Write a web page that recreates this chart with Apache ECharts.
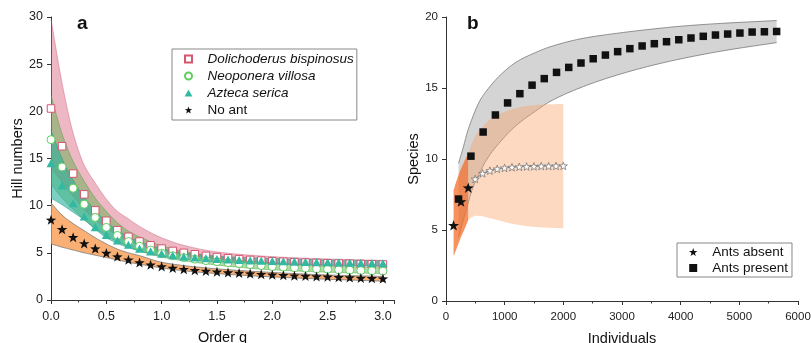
<!DOCTYPE html>
<html>
<head>
<meta charset="utf-8">
<script src="https://cdn.jsdelivr.net/npm/echarts@6/dist/echarts.min.js"></script>
<style>
  html, body { margin: 0; padding: 0; background: #fff; }
  #chart { width: 811px; height: 343px; }
</style>
</head>
<body>
<div id="chart"></div>
<script>
// ---- panel a: Hill number profiles ----
const orderQ = [0, 0.1, 0.2, 0.3, 0.4, 0.5, 0.6, 0.7, 0.8, 0.9, 1.0, 1.1, 1.2, 1.3, 1.4, 1.5,
  1.6, 1.7, 1.8, 1.9, 2.0, 2.1, 2.2, 2.3, 2.4, 2.5, 2.6, 2.7, 2.8, 2.9, 3.0];
const dolichoderus = [20.3, 16.3, 13.4, 11.2, 9.5, 8.4, 7.4, 6.7, 6.2, 5.8, 5.45, 5.2, 5.0, 4.85, 4.68, 4.55,
  4.43, 4.33, 4.25, 4.18, 4.11, 4.06, 4.01, 3.97, 3.93, 3.9, 3.87, 3.84, 3.81, 3.79, 3.77];
const neoponera = [17.0, 14.1, 11.85, 10.15, 8.75, 7.7, 6.85, 6.2, 5.7, 5.3, 4.95, 4.7, 4.5, 4.33, 4.18, 4.06,
  3.95, 3.85, 3.75, 3.65, 3.55, 3.48, 3.42, 3.36, 3.3, 3.25, 3.2, 3.16, 3.12, 3.09, 3.06];
const azteca = [14.5, 12.15, 10.25, 8.85, 7.72, 6.9, 6.3, 5.85, 5.45, 5.15, 4.92, 4.75, 4.6, 4.5, 4.42, 4.35,
  4.29, 4.24, 4.2, 4.16, 4.13, 4.1, 4.07, 4.04, 4.02, 4.0, 3.98, 3.96, 3.94, 3.92, 3.9];
const noAnt = [8.5, 7.5, 6.65, 6.0, 5.45, 4.98, 4.6, 4.27, 3.98, 3.74, 3.55, 3.4, 3.27, 3.16, 3.07, 3.0,
  2.92, 2.86, 2.8, 2.74, 2.68, 2.63, 2.58, 2.54, 2.5, 2.46, 2.42, 2.38, 2.34, 2.3, 2.27];

// confidence bands, sampled more sparsely
const bandQ = [0, 0.1, 0.2, 0.3, 0.4, 0.5, 0.6, 0.7, 0.8, 1.0, 1.2, 1.5, 2.0, 2.5, 3.0];
const dolUpper = [29.8, 23.0, 17.7, 14.3, 12.4, 10.7, 9.4, 8.6, 7.8, 6.6, 5.8, 5.1, 4.6, 4.35, 4.2];
const dolLower = [14.0, 12.5, 11.0, 9.6, 8.5, 7.6, 6.9, 6.3, 5.9, 5.2, 4.8, 4.35, 3.95, 3.72, 3.55];
const neoUpper = [21.7, 17.6, 14.7, 12.6, 10.8, 9.4, 8.2, 7.3, 6.7, 5.75, 5.15, 4.6, 3.95, 3.6, 3.4];
const neoLower = [12.3, 10.8, 9.6, 8.5, 7.6, 6.8, 6.2, 5.65, 5.2, 4.55, 4.15, 3.7, 3.2, 2.95, 2.8];
const aztUpper = [18.0, 15.0, 12.7, 10.9, 9.5, 8.3, 7.4, 6.7, 6.2, 5.45, 5.0, 4.65, 4.4, 4.25, 4.15];
const aztLower = [10.8, 10.1, 9.3, 8.5, 7.5, 6.6, 6.0, 5.55, 5.2, 4.65, 4.35, 4.05, 3.82, 3.68, 3.6];
const noUpper = [10.3, 9.0, 8.1, 7.35, 6.6, 5.95, 5.4, 5.0, 4.7, 4.0, 3.65, 3.3, 2.92, 2.65, 2.5];
const noLower = [5.95, 5.6, 5.3, 5.0, 4.75, 4.5, 4.25, 4.0, 3.8, 3.4, 3.1, 2.8, 2.45, 2.2, 2.0];

// ---- panel b: rarefaction / extrapolation ----
const presentX = [214, 425, 633, 842, 1050, 1259, 1467, 1675, 1884, 2092, 2301, 2509, 2717, 2926,
  3134, 3343, 3551, 3759, 3968, 4176, 4385, 4593, 4801, 5010, 5218, 5427, 5636];
const presentY = [7.18, 10.2, 11.9, 13.1, 13.95, 14.6, 15.2, 15.66, 16.1, 16.45, 16.76, 17.06, 17.32, 17.56,
  17.77, 17.96, 18.12, 18.26, 18.4, 18.52, 18.64, 18.73, 18.8, 18.87, 18.94, 18.96, 18.98];
const presentBandX = [214, 300, 357, 450, 583, 700, 923, 1207, 1500, 1774, 2340, 2908, 3474, 4000, 4694, 5636];
const presentUpper = [9.7, 10.9, 11.8, 12.9, 14.15, 14.85, 15.9, 16.85, 17.45, 17.9, 18.5, 18.85, 19.13, 19.35, 19.55, 19.75];
const presentLower = [4.5, 5.8, 6.6, 7.9, 9.1, 10.0, 11.2, 12.4, 13.3, 14.05, 15.1, 15.9, 16.55, 17.05, 17.6, 18.2];

const absentX = [129, 255, 379];
const absentY = [5.33, 7.0, 7.98];
const absentBandX = [129, 190, 255, 320, 379];
const absentUpper = [7.8, 8.6, 9.3, 9.9, 10.4];
const absentLower = [3.15, 3.8, 4.5, 5.1, 5.7];

const extrapX = [498, 623, 748, 873, 998, 1124, 1249, 1374, 1499, 1624, 1749, 1875, 2000];
const extrapY = [8.59, 8.99, 9.18, 9.3, 9.37, 9.42, 9.45, 9.47, 9.48, 9.5, 9.5, 9.51, 9.52];
const extrapBandX = [379, 450, 520, 640, 753, 923, 1037, 1207, 1378, 1600, 1775, 2000];
const extrapUpper = [10.4, 11.2, 11.75, 12.35, 12.8, 13.2, 13.38, 13.6, 13.74, 13.82, 13.86, 13.87];
const extrapLower = [5.7, 5.92, 6.0, 5.95, 5.82, 5.65, 5.52, 5.38, 5.27, 5.19, 5.15, 5.12];

const FONT = "'Liberation Sans', Arial, sans-serif";
const STAR = "path://M0,-10L2.35,-3.24L9.51,-3.09L3.8,1.24L5.88,8.09L0,4.1L-5.88,8.09L-3.8,1.24L-9.51,-3.09L-2.35,-3.24Z";
const SQUARE = "path://M0,0H10V10H0Z";
const TRIANGLE = "path://M5,0L10,9L0,9Z";

const pairs = (xs, ys) => xs.map((x, i) => [x, ys[i]]);

// monotone cubic through pixel points (x increasing), used only to draw smooth band edges
function smoothEdge(pts, steps = 10) {
  const n = pts.length;
  if (n < 3) return pts;
  const dx = [], m = [];
  for (let i = 0; i < n - 1; i++) {
    dx.push(pts[i + 1][0] - pts[i][0]);
    m.push((pts[i + 1][1] - pts[i][1]) / dx[i]);
  }
  const t = [m[0]];
  for (let i = 1; i < n - 1; i++) {
    if (m[i - 1] * m[i] <= 0) t.push(0);
    else t.push(3 * (dx[i - 1] + dx[i]) / ((2 * dx[i] + dx[i - 1]) / m[i - 1] + (dx[i] + 2 * dx[i - 1]) / m[i]));
  }
  t.push(m[n - 2]);
  const out = [];
  for (let i = 0; i < n - 1; i++) {
    const [x0, y0] = pts[i], h = dx[i], y1 = pts[i + 1][1];
    for (let k = 0; k < steps; k++) {
      const s = k / steps, s2 = s * s, s3 = s2 * s;
      const y = (2 * s3 - 3 * s2 + 1) * y0 + (s3 - 2 * s2 + s) * h * t[i]
        + (-2 * s3 + 3 * s2) * y1 + (s3 - s2) * h * t[i + 1];
      out.push([x0 + s * h, y]);
    }
  }
  out.push(pts[n - 1]);
  return out;
}

function band(axis, xs, upper, lower, fill, edge) {
  return {
    type: "custom", xAxisIndex: axis, yAxisIndex: axis, silent: true,
    data: [[xs[0], upper[0]]],
    renderItem: (params, api) => {
      const top = smoothEdge(xs.map((x, i) => api.coord([x, upper[i]])));
      const bot = smoothEdge(xs.map((x, i) => api.coord([x, lower[i]])));
      const children = [{
        type: "polygon", shape: { points: top.concat(bot.slice().reverse()) },
        style: { fill: fill, stroke: null },
      }];
      if (edge) {
        children.push(
          { type: "polyline", shape: { points: top }, style: { stroke: edge, lineWidth: 0.8, fill: null } },
          { type: "polyline", shape: { points: bot }, style: { stroke: edge, lineWidth: 0.8, fill: null } },
        );
      }
      return { type: "group", children };
    },
  };
}

const axisCommon = {
  axisLine: { lineStyle: { color: "#333", width: 1 } },
  axisTick: { length: 4, lineStyle: { color: "#333" } },
  splitLine: { show: false },
  nameLocation: "middle",
  nameTextStyle: { fontFamily: FONT, fontSize: 14.5, color: "#111" },
};

const chart = echarts.init(document.getElementById("chart"), null, { renderer: "canvas" });
chart.setOption({
  animation: false,
  backgroundColor: "#fff",
  title: [
    { text: "a", left: 77, top: 14, padding: 0, textStyle: { fontFamily: FONT, fontSize: 19, fontWeight: "bold", color: "#111" } },
    { text: "b", left: 467, top: 14, padding: 0, textStyle: { fontFamily: FONT, fontSize: 19, fontWeight: "bold", color: "#111" } },
  ],
  grid: [
    { left: 51, top: 17, width: 343, height: 283, containLabel: false, outerBoundsMode: "none" },
    { left: 446, top: 17, width: 352, height: 284, containLabel: false, outerBoundsMode: "none" },
  ],
  xAxis: [
    {
      ...axisCommon, gridIndex: 0, type: "value", min: 0, max: 3.1, interval: 0.5,
      name: "Order q", nameGap: 30,
      minorTick: { show: true, splitNumber: 2, length: 2.5, lineStyle: { color: "#333" } },
      axisLabel: {
        fontFamily: FONT, fontSize: 12.5, color: "#222", margin: 10,
        formatter: (v) => (Math.abs(v * 2 - Math.round(v * 2)) < 1e-6 ? v.toFixed(1) : ""),
      },
    },
    {
      ...axisCommon, gridIndex: 1, type: "value", min: 0, max: 6000, interval: 1000,
      name: "Individuals", nameGap: 30,
      minorTick: { show: true, splitNumber: 2, length: 2.5, lineStyle: { color: "#333" } },
      axisLabel: { fontFamily: FONT, fontSize: 11.5, color: "#222", margin: 10, formatter: (v) => String(v) },
    },
  ],
  yAxis: [
    {
      ...axisCommon, gridIndex: 0, type: "value", min: 0, max: 30, interval: 5,
      name: "Hill numbers", nameGap: 25,
      axisLabel: { fontFamily: FONT, fontSize: 12.5, color: "#222", margin: 8 },
    },
    {
      ...axisCommon, gridIndex: 1, type: "value", min: 0, max: 20, interval: 5,
      name: "Species", nameGap: 19,
      axisLabel: { fontFamily: FONT, fontSize: 11.5, color: "#222", margin: 8 },
    },
  ],
  legend: [
    {
      data: ["Dolichoderus bispinosus", "Neoponera villosa", "Azteca serica", "No ant"],
      orient: "vertical", left: 172, top: 49, itemGap: 3, itemWidth: 28, itemHeight: 7,
      padding: [3, 3, 3, 12], borderColor: "#888", borderWidth: 1,
      textStyle: {
        fontFamily: FONT, fontSize: 13.5, color: "#111",
        rich: { i: { fontFamily: FONT, fontSize: 13.5, fontStyle: "italic", color: "#111" } },
      },
      formatter: (n) => (n === "No ant" ? n : "{i|" + n + "}"),
    },
    {
      data: ["Ants absent", "Ants present"],
      orient: "vertical", left: 677, top: 243, itemGap: 2, itemWidth: 28, itemHeight: 8,
      padding: [2, 4, 2, 12], borderColor: "#888", borderWidth: 1,
      textStyle: { fontFamily: FONT, fontSize: 13.5, color: "#111" },
    },
  ],
  series: [
    // panel a
    {
      type: "scatter", name: "Dolichoderus bispinosus", xAxisIndex: 0, yAxisIndex: 0,
      data: pairs(orderQ, dolichoderus), symbol: SQUARE, symbolSize: 7.5, symbolKeepAspect: true,
      itemStyle: { color: "#fff", borderColor: "#d4566f", borderWidth: 1, opacity: 1 },
    },
    band(0, bandQ, dolUpper, dolLower, "rgba(214,95,125,0.45)", "rgba(200,80,110,0.5)"),
    band(0, bandQ, neoUpper, neoLower, "rgba(90,175,70,0.45)", "rgba(70,160,60,0.6)"),
    band(0, bandQ, aztUpper, aztLower, "rgba(40,175,155,0.6)", "rgba(30,150,130,0.6)"),
    band(0, bandQ, noUpper, noLower, "rgba(248,150,70,0.75)", "#777"),
    {
      type: "scatter", name: "Neoponera villosa", xAxisIndex: 0, yAxisIndex: 0,
      data: pairs(orderQ, neoponera), symbol: "circle", symbolSize: 8,
      itemStyle: { color: "#fff", borderColor: "#5fcf5f", borderWidth: 1, opacity: 1 },
    },
    {
      type: "scatter", name: "Azteca serica", xAxisIndex: 0, yAxisIndex: 0,
      data: pairs(orderQ, azteca), symbol: TRIANGLE, symbolSize: 9, symbolKeepAspect: true,
      itemStyle: { color: "#33b9a1", opacity: 1 },
    },
    {
      type: "scatter", name: "No ant", xAxisIndex: 0, yAxisIndex: 0,
      data: pairs(orderQ, noAnt), symbol: STAR, symbolSize: 10.5, symbolKeepAspect: true,
      itemStyle: { color: "#111", opacity: 1 },
    },
    // panel b
    band(1, presentBandX, presentUpper, presentLower, "#d4d4d4", "#777"),
    {
      type: "scatter", name: "Ants present", xAxisIndex: 1, yAxisIndex: 1,
      data: pairs(presentX, presentY), symbol: SQUARE, symbolSize: 7.5, symbolKeepAspect: true,
      itemStyle: { color: "#111", opacity: 1 },
    },
    {
      type: "scatter", name: "Ants absent", xAxisIndex: 1, yAxisIndex: 1,
      data: pairs(absentX, absentY), symbol: STAR, symbolSize: 11, symbolKeepAspect: true,
      itemStyle: { color: "#111", opacity: 1 },
    },
    band(1, absentBandX, absentUpper, absentLower, "rgba(244,110,40,0.75)", null),
    band(1, extrapBandX, extrapUpper, extrapLower, "rgba(250,160,100,0.4)", null),
    {
      type: "line", name: "extrapolated", xAxisIndex: 1, yAxisIndex: 1,
      data: pairs(extrapX, extrapY), symbol: STAR, symbolSize: 8, symbolKeepAspect: true,
      showSymbol: true, lineStyle: { color: "#888", width: 1 },
      itemStyle: { color: "#fff", borderColor: "#777", borderWidth: 0.8 },
    },
  ],
});
</script>
</body>
</html>
